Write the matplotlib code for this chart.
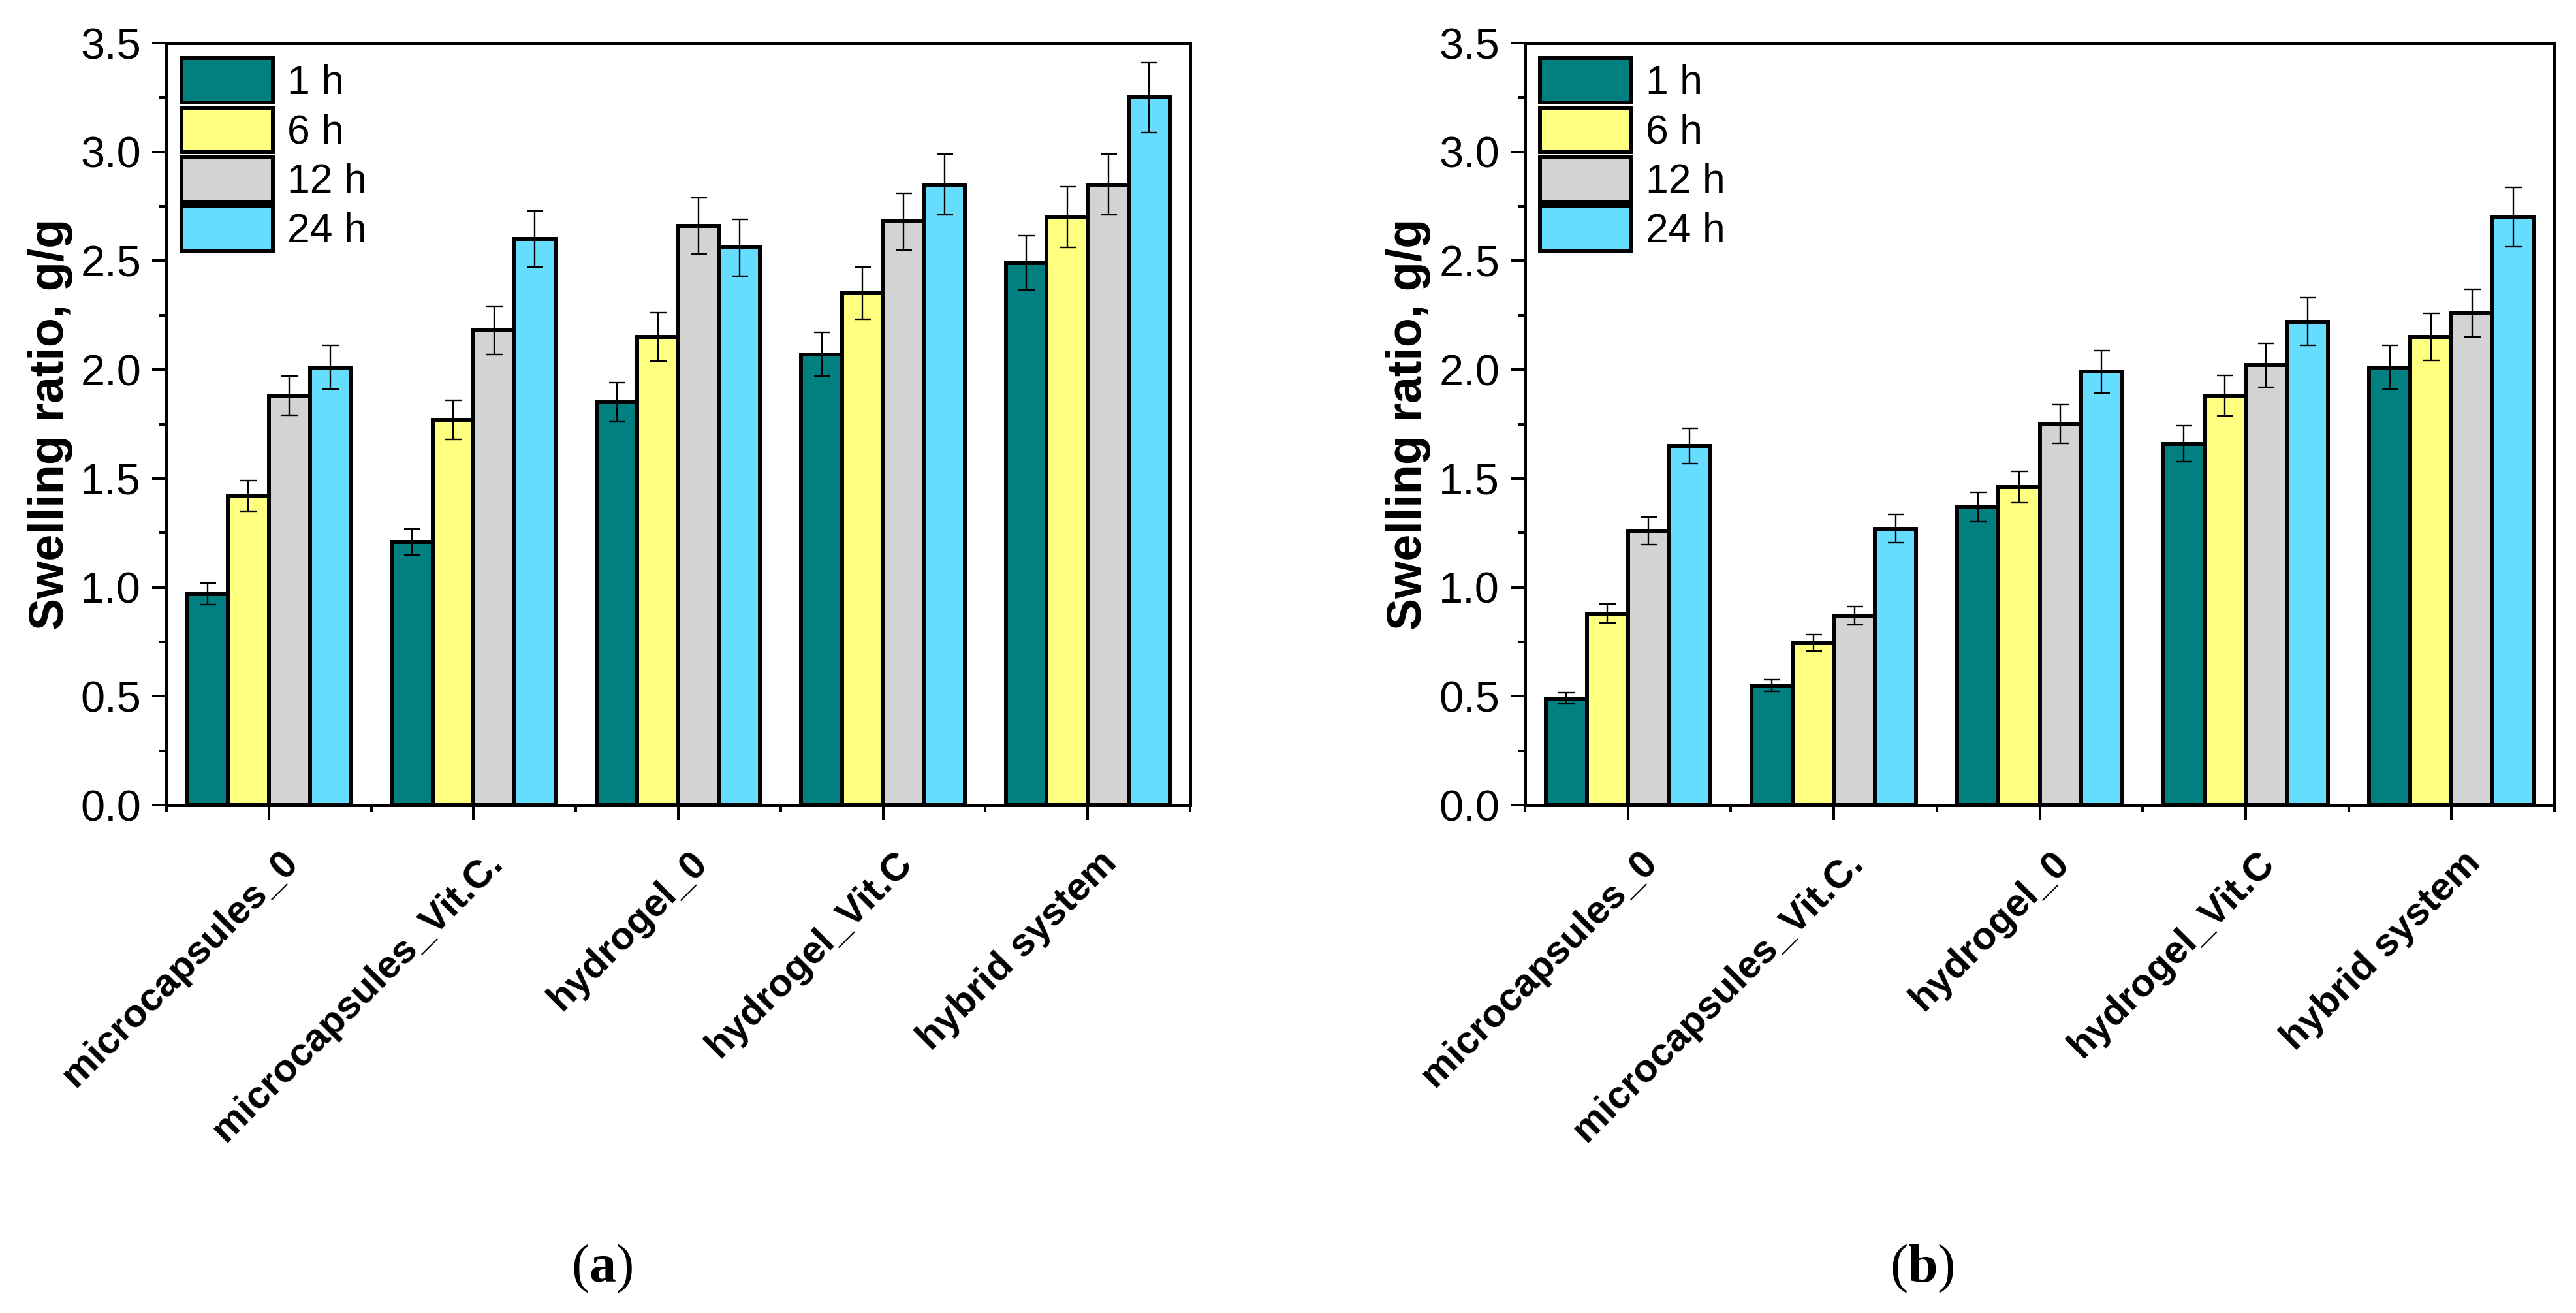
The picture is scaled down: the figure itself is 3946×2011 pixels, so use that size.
import numpy as np
import matplotlib
matplotlib.use("Agg")
import matplotlib.pyplot as plt
import matplotlib.transforms as mtransforms
from matplotlib.ticker import MultipleLocator, FormatStrFormatter

plt.rcParams['font.family'] = ['Liberation Sans', 'DejaVu Sans']
plt.rcParams['mathtext.fontset'] = 'custom'
plt.rcParams['mathtext.rm'] = 'Liberation Serif'
plt.rcParams['mathtext.bf'] = 'Liberation Serif:bold'

# ---------------- data ----------------
groups = ['microcapsules_0', 'microcapsules_Vit.C.', 'hydrogel_0', 'hydrogel_Vit.C', 'hybrid system']
times = ['1 h', '6 h', '12 h', '24 h']
colors = ['#008080', '#FFFF80', '#D3D3D3', '#66DDFF']

# panel (a)
a_1h = [0.97, 1.21, 1.85, 2.07, 2.49]
a_6h = [1.42, 1.77, 2.15, 2.35, 2.70]
a_12h = [1.88, 2.18, 2.66, 2.68, 2.85]
a_24h = [2.01, 2.60, 2.56, 2.85, 3.25]
a_1h_err = [0.05, 0.06, 0.09, 0.10, 0.125]
a_6h_err = [0.07, 0.09, 0.11, 0.12, 0.14]
a_12h_err = [0.09, 0.11, 0.13, 0.13, 0.14]
a_24h_err = [0.10, 0.13, 0.13, 0.14, 0.16]

# panel (b)
b_1h = [0.49, 0.55, 1.37, 1.66, 2.01]
b_6h = [0.88, 0.745, 1.46, 1.88, 2.15]
b_12h = [1.26, 0.87, 1.75, 2.02, 2.26]
b_24h = [1.65, 1.27, 1.99, 2.22, 2.70]
b_1h_err = [0.025, 0.027, 0.067, 0.082, 0.10]
b_6h_err = [0.044, 0.037, 0.072, 0.093, 0.108]
b_12h_err = [0.062, 0.041, 0.087, 0.10, 0.11]
b_24h_err = [0.08, 0.064, 0.098, 0.11, 0.136]

panels = [
    ('a', [a_1h, a_6h, a_12h, a_24h], [a_1h_err, a_6h_err, a_12h_err, a_24h_err]),
    ('b', [b_1h, b_6h, b_12h, b_24h], [b_1h_err, b_6h_err, b_12h_err, b_24h_err]),
]

# ---------------- figure ----------------
W, H = 3946, 2011
DPI = 100
fig = plt.figure(figsize=(W / DPI, H / DPI), dpi=DPI)

axes_px = [(255, 66, 1568, 1167), (2336, 66, 1577, 1167)]  # left, top, width, height in px
letter_x = [922, 2944]

bar_w = 0.2
x = np.arange(len(groups))

for (tag, series, errs), (l, t, w, h), lx in zip(panels, axes_px, letter_x):
    ax = fig.add_axes([l / W, 1 - (t + h) / H, w / W, h / H])
    for i, (vals, err) in enumerate(zip(series, errs)):
        ax.bar(x + (i - 1.5) * bar_w, vals, bar_w, yerr=err, color=colors[i],
               edgecolor='black', linewidth=4.3, label=times[i], zorder=2,
               error_kw=dict(ecolor='black', elinewidth=1.7, capsize=9, capthick=1.7, zorder=3))

    ax.set_xlim(-0.5, len(groups) - 0.5)
    ax.set_ylim(0, 3.5)
    ax.yaxis.set_major_locator(MultipleLocator(0.5))
    ax.yaxis.set_minor_locator(MultipleLocator(0.25))
    ax.yaxis.set_major_formatter(FormatStrFormatter('%.1f'))
    ax.set_xticks(x)
    ax.set_xticks(np.arange(-0.5, len(groups), 1.0), minor=True)
    ax.set_xticklabels(groups, rotation=45, ha='right', va='center',
                       rotation_mode='anchor', fontsize=43, fontweight='bold')

    for s in ax.spines.values():
        s.set_linewidth(3.6)
    ax.tick_params(axis='both', which='both', direction='out', width=2.9,
                   top=False, right=False)
    ax.tick_params(axis='y', which='major', length=16, pad=12, labelsize=48)
    ax.tick_params(axis='y', which='minor', length=8)
    ax.tick_params(axis='x', which='major', length=16.5, pad=41)
    ax.tick_params(axis='x', which='minor', length=8)

    offset = mtransforms.ScaledTranslation(0.36, 0, fig.dpi_scale_trans)
    for lbl in ax.get_xticklabels():
        lbl.set_transform(lbl.get_transform() + offset)

    ax.set_ylabel('Swelling ratio, g/g', fontsize=53, fontweight='bold')
    ax.yaxis.set_label_coords(-0.091, 0.5)

    ax.legend(loc='upper left', frameon=False, fontsize=45, handlelength=2.24,
              handleheight=1.3, labelspacing=0.12, handletextpad=0.35,
              borderaxespad=0.0, borderpad=0.37)

    fig.text(lx / W, 1 - 1943 / H, r'($\mathbf{' + tag + '}$)', family='Liberation Serif',
             fontsize=59, ha='center', va='center')

fig.savefig('out.png', dpi=DPI)
